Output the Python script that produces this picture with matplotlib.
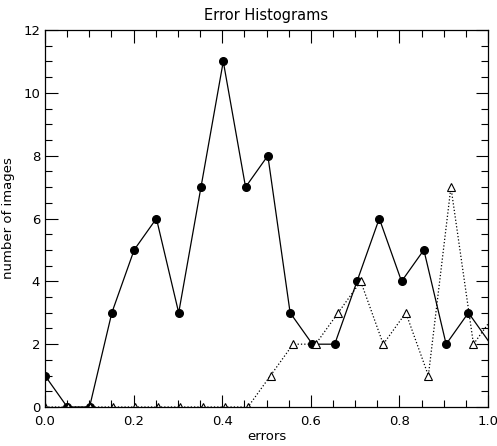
import matplotlib
matplotlib.use("Agg")
import matplotlib.pyplot as plt
import numpy as np
from matplotlib.ticker import MultipleLocator

# bin centres and counts
err_a = np.arange(21) * 0.0503
count_a = [1, 0, 0, 3, 5, 6, 3, 7, 11, 7, 8, 3, 2, 2, 4, 6, 4, 5, 2, 3, 2]

err_b = np.arange(21) * 0.0509
count_b = [0, 0, 0, 0, 0, 0, 0, 0, 0, 0, 1, 2, 2, 3, 4, 2, 3, 1, 7, 2, 3]

fig = plt.figure(figsize=(4.97, 4.46), dpi=100)
ax = fig.add_axes([0.0905, 0.0874, 0.8915, 0.8453])

# symbols only for points inside the plotted range, the line runs on to the edge
in_a = [i for i, x in enumerate(err_a) if x <= 1.0]
in_b = [i for i, x in enumerate(err_b) if x <= 1.0]

ax.plot(err_a, count_a, '-', color='black', lw=0.9,
        marker='o', ms=5.5, mfc='black', mec='black', markevery=in_a)
ax.plot(err_b, count_b, ':', color='black', lw=0.9,
        marker='^', ms=5.5, mfc='white', mec='black', mew=0.8, markevery=in_b)

ax.set_xlim(0, 1.0)
ax.set_ylim(0, 12)
ax.xaxis.set_major_locator(MultipleLocator(0.2))
ax.xaxis.set_minor_locator(MultipleLocator(0.05))
ax.yaxis.set_major_locator(MultipleLocator(2))
ax.yaxis.set_minor_locator(MultipleLocator(0.5))
ax.xaxis.set_major_formatter(matplotlib.ticker.FormatStrFormatter('%.1f'))
ax.tick_params(which='both', direction='in', top=True, right=True, labelsize=9.5, width=0.8)
ax.tick_params(which='major', length=9)
ax.tick_params(which='minor', length=5)
ax.tick_params(axis='x', pad=6)
for s in ax.spines.values():
    s.set_linewidth(0.9)

ax.set_title('Error Histograms', fontsize=10.5, pad=7)
ax.set_xlabel('errors', fontsize=9.5, labelpad=1)
ax.set_ylabel('number of images', fontsize=9.5, labelpad=6)

fig.savefig('out.png', dpi=100)
